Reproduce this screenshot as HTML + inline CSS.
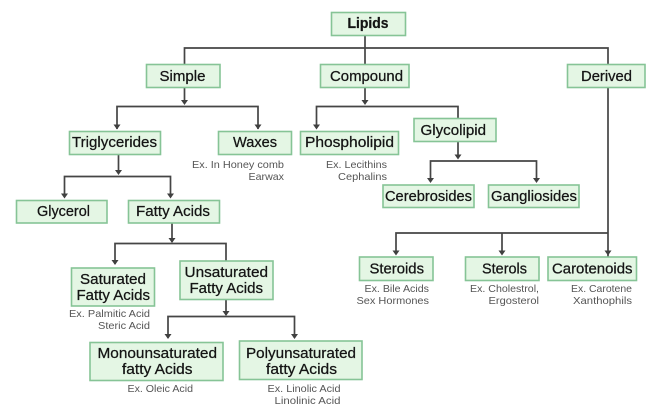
<!DOCTYPE html>
<html><head><meta charset="utf-8"><style>
html,body{margin:0;padding:0;background:#fff}
svg{display:block}
.b{fill:#e4f6e4;stroke:#86c496;stroke-width:1.6}
.l{fill:none;stroke:#454545;stroke-width:1.7}
.a{fill:#404040}
text{font-family:"Liberation Sans",sans-serif}
.t{font-size:14.5px;fill:#141414;stroke:#141414;stroke-width:.25}
.s{font-size:10.5px;fill:#555;}
</style></head><body>
<svg width="660" height="419" viewBox="0 0 660 419" xmlns="http://www.w3.org/2000/svg">
<rect width="660" height="419" fill="#fff"/>
<!-- connectors -->
<path class="l" d="M365 35V64M184.500 64V48H608V64M608 87V257"/>
<path class="l" d="M184.500 87V103M117 129V106.500H258V129"/>
<path class="l" d="M118.500 154V173M64.500 197V176.500H170.500V197"/>
<path class="l" d="M365 87V103M316.500 127V106.500H458V118"/>
<path class="l" d="M458 141V158M430.500 181V161H536.500V181"/>
<path class="l" d="M172 223V242M115 264V243.500H226V261"/>
<path class="l" d="M226 299V315M168 338V316.500H294.500V338"/>
<path class="l" d="M396 254V233H608M502 233V254"/>
<!-- arrowheads -->
<g class="a">
<path d="M181 100h7l-3.500 5zM113.500 124.500h7l-3.500 5zM254.500 124.500h7l-3.500 5z"/>
<path d="M115 170h7l-3.500 5zM61 193.500h7l-3.500 5zM167 193.500h7l-3.500 5z"/>
<path d="M361.500 100h7l-3.500 5zM313 124.500h7l-3.500 5z"/>
<path d="M454.500 154.500h7l-3.500 5zM427 178h7l-3.500 5zM533 178h7l-3.500 5z"/>
<path d="M168.500 238h7l-3.500 5zM111.500 260h7l-3.500 5z"/>
<path d="M222.500 311h7l-3.500 5zM164.500 334h7l-3.500 5zM291 334h7l-3.500 5z"/>
<path d="M392.500 250.500h7l-3.500 5zM498.500 250.500h7l-3.500 5zM604.500 250.500h7l-3.500 5z"/>
</g>
<!-- boxes -->
<rect class="b" x="331.500" y="12.500" width="74" height="23"/>
<rect class="b" x="146.500" y="64.500" width="73.500" height="23"/>
<rect class="b" x="320.500" y="64.500" width="88.500" height="23"/>
<rect class="b" x="567.500" y="64.500" width="77.500" height="23"/>
<rect class="b" x="69.500" y="131.500" width="91" height="23"/>
<rect class="b" x="218.500" y="131.500" width="73" height="23"/>
<rect class="b" x="300.500" y="131.500" width="98" height="23"/>
<rect class="b" x="414" y="118.500" width="82" height="23"/>
<rect class="b" x="383" y="185" width="91" height="22.500"/>
<rect class="b" x="488.500" y="185" width="90.500" height="22.500"/>
<rect class="b" x="16.500" y="200.500" width="90.500" height="22.500"/>
<rect class="b" x="128.500" y="200.500" width="91" height="22.500"/>
<rect class="b" x="71.500" y="268" width="83" height="38"/>
<rect class="b" x="180" y="261" width="93" height="38.500"/>
<rect class="b" x="90" y="342.500" width="133" height="38"/>
<rect class="b" x="239.500" y="341" width="122.500" height="38.500"/>
<rect class="b" x="359.500" y="257" width="73.500" height="23.500"/>
<rect class="b" x="465.500" y="257" width="73.500" height="23.500"/>
<rect class="b" x="548" y="257" width="88.500" height="23.500"/>
<!-- labels -->
<g class="t">
<text x="347.500" y="28" font-weight="bold" textLength="41" lengthAdjust="spacingAndGlyphs">Lipids</text>
<text x="159.500" y="81" textLength="46" lengthAdjust="spacingAndGlyphs">Simple</text>
<text x="330" y="81" textLength="73" lengthAdjust="spacingAndGlyphs">Compound</text>
<text x="581" y="81" textLength="51" lengthAdjust="spacingAndGlyphs">Derived</text>
<text x="72" y="147" textLength="85" lengthAdjust="spacingAndGlyphs">Triglycerides</text>
<text x="233" y="147" textLength="44" lengthAdjust="spacingAndGlyphs">Waxes</text>
<text x="305" y="147" textLength="89" lengthAdjust="spacingAndGlyphs">Phospholipid</text>
<text x="420.500" y="135" textLength="65.500" lengthAdjust="spacingAndGlyphs">Glycolipid</text>
<text x="385" y="201" textLength="87" lengthAdjust="spacingAndGlyphs">Cerebrosides</text>
<text x="491" y="201" textLength="86" lengthAdjust="spacingAndGlyphs">Gangliosides</text>
<text x="37" y="216" textLength="53" lengthAdjust="spacingAndGlyphs">Glycerol</text>
<text x="136" y="216" textLength="74" lengthAdjust="spacingAndGlyphs">Fatty Acids</text>
<text x="80" y="284" textLength="66" lengthAdjust="spacingAndGlyphs">Saturated</text>
<text x="76.500" y="300" textLength="73.500" lengthAdjust="spacingAndGlyphs">Fatty Acids</text>
<text x="184.500" y="277" textLength="83.500" lengthAdjust="spacingAndGlyphs">Unsaturated</text>
<text x="189.500" y="293" textLength="73.500" lengthAdjust="spacingAndGlyphs">Fatty Acids</text>
<text x="97.500" y="358" textLength="119.500" lengthAdjust="spacingAndGlyphs">Monounsaturated</text>
<text x="122" y="374" textLength="70.500" lengthAdjust="spacingAndGlyphs">fatty Acids</text>
<text x="246" y="358" textLength="110" lengthAdjust="spacingAndGlyphs">Polyunsaturated</text>
<text x="266" y="374" textLength="71" lengthAdjust="spacingAndGlyphs">fatty Acids</text>
<text x="369.500" y="273.500" textLength="54.500" lengthAdjust="spacingAndGlyphs">Steroids</text>
<text x="482" y="273.500" textLength="45" lengthAdjust="spacingAndGlyphs">Sterols</text>
<text x="552" y="273.500" textLength="80.500" lengthAdjust="spacingAndGlyphs">Carotenoids</text>
</g>
<g class="s">
<text x="192" y="168" textLength="92" lengthAdjust="spacingAndGlyphs">Ex. In Honey comb</text>
<text x="248.500" y="180" textLength="35.500" lengthAdjust="spacingAndGlyphs">Earwax</text>
<text x="326" y="168" textLength="61" lengthAdjust="spacingAndGlyphs">Ex. Lecithins</text>
<text x="338" y="180" textLength="49" lengthAdjust="spacingAndGlyphs">Cephalins</text>
<text x="69" y="317" textLength="81" lengthAdjust="spacingAndGlyphs">Ex. Palmitic Acid</text>
<text x="98" y="329" textLength="52" lengthAdjust="spacingAndGlyphs">Steric Acid</text>
<text x="127.500" y="392" textLength="65.500" lengthAdjust="spacingAndGlyphs">Ex. Oleic Acid</text>
<text x="267.500" y="392" textLength="73" lengthAdjust="spacingAndGlyphs">Ex. Linolic Acid</text>
<text x="274.500" y="404" textLength="66" lengthAdjust="spacingAndGlyphs">Linolinic Acid</text>
<text x="364.500" y="292" textLength="64.500" lengthAdjust="spacingAndGlyphs">Ex. Bile Acids</text>
<text x="356.500" y="304" textLength="72.500" lengthAdjust="spacingAndGlyphs">Sex Hormones</text>
<text x="470" y="292" textLength="69" lengthAdjust="spacingAndGlyphs">Ex. Cholestrol,</text>
<text x="488.500" y="304" textLength="50.500" lengthAdjust="spacingAndGlyphs">Ergosterol</text>
<text x="571" y="292" textLength="61" lengthAdjust="spacingAndGlyphs">Ex. Carotene</text>
<text x="573" y="304" textLength="59" lengthAdjust="spacingAndGlyphs">Xanthophils</text>
</g>
</svg>
</body></html>
